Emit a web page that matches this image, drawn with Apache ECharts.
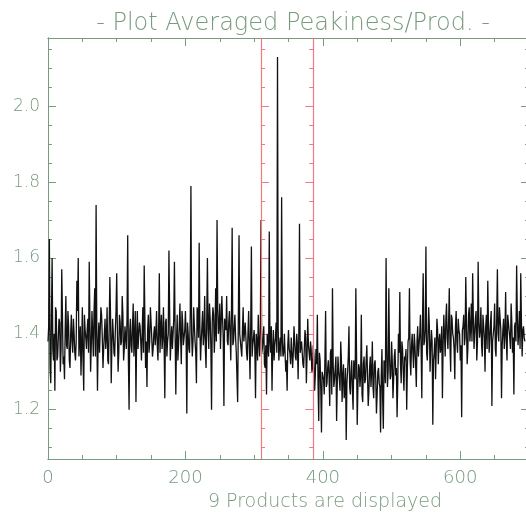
<!DOCTYPE html>
<html><head><meta charset="utf-8">
<script src="https://cdn.jsdelivr.net/npm/echarts@6/dist/echarts.min.js"></script>
<style>html,body{margin:0;padding:0;background:#fff}#c{width:526px;height:517px}</style>
</head><body><div id="c"></div>
<script>
const titleText = '- Plot Averaged Peakiness/Prod. -';
const xAxisTitle = '9 Products are displayed';
// samples at even x positions (0, 2, 4, ...)
const peakinessEven = [
1.38,1.65,1.27,1.60,1.33,1.25,1.46,1.34,1.44,1.30,
1.57,1.32,1.28,1.50,1.36,1.42,1.31,1.45,1.35,1.40,
1.33,1.54,1.60,1.38,1.29,1.47,1.25,1.41,1.36,1.44,
1.59,1.30,1.46,1.34,1.52,1.74,1.25,1.43,1.35,1.45,
1.31,1.40,1.36,1.47,1.32,1.55,1.27,1.44,1.35,1.41,
1.56,1.30,1.45,1.37,1.50,1.33,1.42,1.36,1.66,1.20,
1.44,1.35,1.48,1.39,1.22,1.46,1.36,1.42,1.33,1.47,
1.58,1.31,1.26,1.45,1.38,1.43,1.34,1.40,1.37,1.46,
1.33,1.56,1.41,1.36,1.47,1.23,1.44,1.38,1.62,1.33,
1.42,1.36,1.59,1.24,1.45,1.37,1.48,1.32,1.43,1.39,
1.46,1.19,1.40,1.35,1.79,1.34,1.47,1.38,1.27,1.45,
1.64,1.33,1.42,1.37,1.50,1.31,1.60,1.36,1.44,1.20,
1.47,1.35,1.52,1.70,1.40,1.48,1.36,1.44,1.21,1.42,
1.50,1.37,1.46,1.33,1.68,1.38,1.45,1.35,1.22,1.66,
1.40,1.34,1.47,1.38,1.43,1.33,1.46,1.28,1.63,1.37,
1.41,1.23,1.38,1.45,1.34,1.70,1.36,1.42,1.31,1.24,
1.40,1.67,1.35,1.25,1.41,1.37,1.43,2.13,1.33,1.39,
1.76,1.34,1.40,1.30,1.25,1.41,1.35,1.39,1.31,1.42,
1.34,1.40,1.28,1.69,1.35,1.38,1.31,1.41,1.27,1.44,
1.35,1.38,1.30,1.37,1.25,1.36,1.45,1.17,1.33,1.14,
1.30,1.24,1.46,1.27,1.33,1.21,1.36,1.52,1.26,1.31,
1.17,1.34,1.28,1.38,1.22,1.32,1.25,1.12,1.30,1.42,
1.24,1.33,1.20,1.30,1.52,1.16,1.32,1.26,1.45,1.22,
1.34,1.28,1.37,1.21,1.31,1.26,1.38,1.23,1.33,1.19,
1.30,1.27,1.14,1.36,1.15,1.32,1.60,1.26,1.52,1.28,
1.38,1.23,1.34,1.29,1.18,1.40,1.51,1.27,1.36,1.25,
1.33,1.20,1.38,1.52,1.29,1.40,1.31,1.37,1.26,1.42,
1.34,1.45,1.23,1.56,1.38,1.63,1.33,1.47,1.30,1.41,
1.16,1.35,1.28,1.44,1.32,1.40,1.37,1.23,1.45,1.34,
1.48,1.36,1.52,1.30,1.44,1.39,1.28,1.46,1.35,1.41,
1.33,1.18,1.42,1.37,1.55,1.32,1.45,1.38,1.48,1.56,
1.36,1.44,1.33,1.59,1.39,1.47,1.34,1.42,1.30,1.45,
1.54,1.35,1.43,1.21,1.40,1.48,1.34,1.57,1.38,1.44,
1.23,1.41,1.36,1.51,1.33,1.45,1.39,1.48,1.35,1.24,
1.43,1.58,1.37,1.46,1.56,1.34,1.42,1.38
];
// samples at odd x positions (1, 3, 5, ...)
const peakinessOdd = [
1.42,1.31,1.44,1.36,1.40,1.47,1.33,1.39,1.43,1.36,
1.45,1.34,1.41,1.37,1.46,1.33,1.40,1.38,1.44,1.35,
1.38,1.46,1.34,1.42,1.37,1.33,1.45,1.39,1.41,1.35,
1.43,1.37,1.40,1.46,1.34,1.41,1.38,1.35,1.47,1.39,
1.36,1.44,1.39,1.33,1.41,1.45,1.37,1.40,1.34,1.46,
1.40,1.35,1.43,1.38,1.45,1.36,1.39,1.44,1.33,1.41,
1.37,1.42,1.34,1.46,1.39,1.36,1.43,1.38,1.40,1.35,
1.44,1.38,1.41,1.35,1.47,1.39,1.36,1.42,1.40,1.37,
1.41,1.35,1.45,1.39,1.37,1.43,1.34,1.40,1.46,1.38,
1.36,1.44,1.40,1.38,1.33,1.42,1.39,1.46,1.37,1.41,
1.39,1.43,1.36,1.45,1.40,1.38,1.42,1.35,1.47,1.39,
1.42,1.38,1.46,1.40,1.36,1.44,1.41,1.48,1.37,1.43,
1.45,1.40,1.38,1.47,1.42,1.36,1.50,1.39,1.44,1.41,
1.38,1.43,1.40,1.46,1.37,1.42,1.39,1.35,1.44,1.40,
1.36,1.41,1.38,1.43,1.35,1.40,1.37,1.42,1.34,1.39,
1.36,1.40,1.33,1.38,1.41,1.35,1.39,1.32,1.37,1.40,
1.34,1.38,1.42,1.36,1.33,1.39,1.35,1.41,1.37,1.34,
1.38,1.35,1.40,1.33,1.37,1.36,1.32,1.39,1.35,1.38,
1.33,1.37,1.40,1.35,1.38,1.32,1.36,1.39,1.34,1.37,
1.33,1.36,1.31,1.34,1.29,1.32,1.27,1.35,1.25,1.30,
1.28,1.33,1.26,1.31,1.29,1.35,1.24,1.32,1.28,1.34,
1.27,1.30,1.25,1.33,1.29,1.23,1.31,1.27,1.34,1.26,
1.30,1.25,1.33,1.28,1.35,1.26,1.31,1.29,1.24,1.32,
1.27,1.33,1.29,1.25,1.34,1.30,1.26,1.32,1.28,1.24,
1.31,1.26,1.29,1.23,1.33,1.27,1.36,1.30,1.34,1.29,
1.33,1.28,1.36,1.31,1.27,1.35,1.32,1.38,1.30,1.34,
1.36,1.31,1.39,1.33,1.37,1.35,1.40,1.32,1.38,1.34,
1.40,1.36,1.43,1.37,1.41,1.35,1.39,1.42,1.36,1.38,
1.33,1.39,1.36,1.41,1.38,1.35,1.42,1.37,1.40,1.44,
1.39,1.43,1.37,1.45,1.40,1.36,1.42,1.38,1.44,1.40,
1.37,1.41,1.45,1.39,1.43,1.36,1.47,1.41,1.38,1.44,
1.40,1.46,1.38,1.43,1.41,1.37,1.45,1.39,1.42,1.36,
1.43,1.39,1.46,1.38,1.42,1.36,1.44,1.40,1.47,1.41,
1.37,1.44,1.40,1.38,1.45,1.41,1.36,1.43,1.39,1.42,
1.38,1.45,1.40,1.36,1.43,1.41,1.39
];
const redMarkers = [310, 386];
const xRange = [0, 700];
const yRange = [1.07, 2.18];
const xMajorTicks = [0, 200, 400, 600];
const xMinorTicks = [0,50,100,150,200,250,300,350,400,450,500,550,600,650,700];
const yMajorTicks = [1.2, 1.4, 1.6, 1.8, 2.0];
const yMinorTicks = [1.10,1.15,1.20,1.25,1.30,1.35,1.40,1.45,1.50,1.55,1.60,1.65,1.70,1.75,1.80,1.85,1.90,1.95,2.00,2.05,2.10,2.15];

const axisColor = '#789a7e';
const redColor = '#f07a84';
const fontFamily = 'DejaVu Sans';

const chart = echarts.init(document.getElementById('c'), null, {renderer: 'canvas'});

function xAx(pos, ticks, len, labels) {
  return {
    type: 'value', position: pos, min: xRange[0], max: xRange[1],
    axisLine: {show: true, onZero: false, lineStyle: {color: axisColor, width: 1}},
    axisTick: {show: true, inside: true, length: len, customValues: ticks, lineStyle: {color: axisColor}},
    axisLabel: labels ? {show: true, customValues: ticks, margin: 10, color: axisColor, fontSize: 18, fontFamily: fontFamily, fontWeight: 'lighter'} : {show: false},
    splitLine: {show: false}
  };
}
function yAx(pos, ticks, len, labels, color, inside, offset, showLine) {
  return {
    type: 'value', position: pos, min: yRange[0], max: yRange[1], offset: offset || 0,
    axisLine: {show: showLine !== false, onZero: false, lineStyle: {color: color, width: 1}},
    axisTick: {show: true, inside: inside, length: len, customValues: ticks, lineStyle: {color: color}},
    axisLabel: labels ? {show: true, customValues: ticks, margin: 8, color: axisColor, fontSize: 17, fontFamily: fontFamily, fontWeight: 'lighter', formatter: v => v.toFixed(1)} : {show: false},
    splitLine: {show: false}
  };
}

// interleave the two sample arrays in x order
const seriesData = [];
peakinessEven.forEach((v, i) => {
  seriesData.push([2 * i, v]);
  if (i < peakinessOdd.length) seriesData.push([2 * i + 1, peakinessOdd[i]]);
});

const option = {
  animation: false,
  backgroundColor: '#ffffff',
  title: [
    {text: titleText, left: 288, textAlign: 'center', top: 7,
     textStyle: {color: axisColor, fontSize: 24, fontWeight: 'lighter', fontFamily: fontFamily}},
    {text: xAxisTitle, left: 320, textAlign: 'center', top: 488,
     textStyle: {color: axisColor, fontSize: 19, fontWeight: 'lighter', fontFamily: fontFamily}}
  ],
  grid: {left: 48, top: 38, width: 481, bottom: 58, containLabel: false, outerBoundsMode: 'none'},
  xAxis: [
    xAx('bottom', xMajorTicks, 8, true),
    xAx('bottom', xMinorTicks, 4, false),
    xAx('top', xMajorTicks, 8, false),
    xAx('top', xMinorTicks, 4, false)
  ],
  yAxis: [
    yAx('left', yMajorTicks, 8, true, axisColor, true),
    yAx('left', yMinorTicks, 4, false, axisColor, true),
    yAx('right', yMajorTicks, 8, false, axisColor, true),
    yAx('right', yMinorTicks, 4, false, axisColor, true)
  ],
  series: [{
    type: 'line', xAxisIndex: 0, yAxisIndex: 0, data: seriesData,
    showSymbol: false, symbol: 'none', color: '#111111',
    lineStyle: {color: '#111111', width: 1.3},
    markLine: {
      silent: true, symbol: ['none', 'none'], label: {show: false},
      itemStyle: {color: redColor},
      lineStyle: {color: redColor, width: 1.2, type: 'solid', opacity: 1},
      emphasis: {disabled: true},
      data: redMarkers.map(x => ({xAxis: x, lineStyle: {color: redColor}}))
    },
    z: 3
  }]
};
chart.setOption(option);

// tick marks on the red marker lines, placed through the x scale
const left0 = chart.convertToPixel({xAxisIndex: 0}, xRange[0]);
const redAxes = [];
redMarkers.forEach((x, i) => {
  const px = chart.convertToPixel({xAxisIndex: 0}, x);
  const off = left0 - px;
  const inside = i === 0;
  redAxes.push(yAx('left', yMajorTicks, 8, false, redColor, inside, off, false));
  redAxes.push(yAx('left', yMinorTicks, 4, false, redColor, inside, off, false));
});
option.yAxis = option.yAxis.concat(redAxes);
chart.setOption(option, true);
</script>
</body></html>
